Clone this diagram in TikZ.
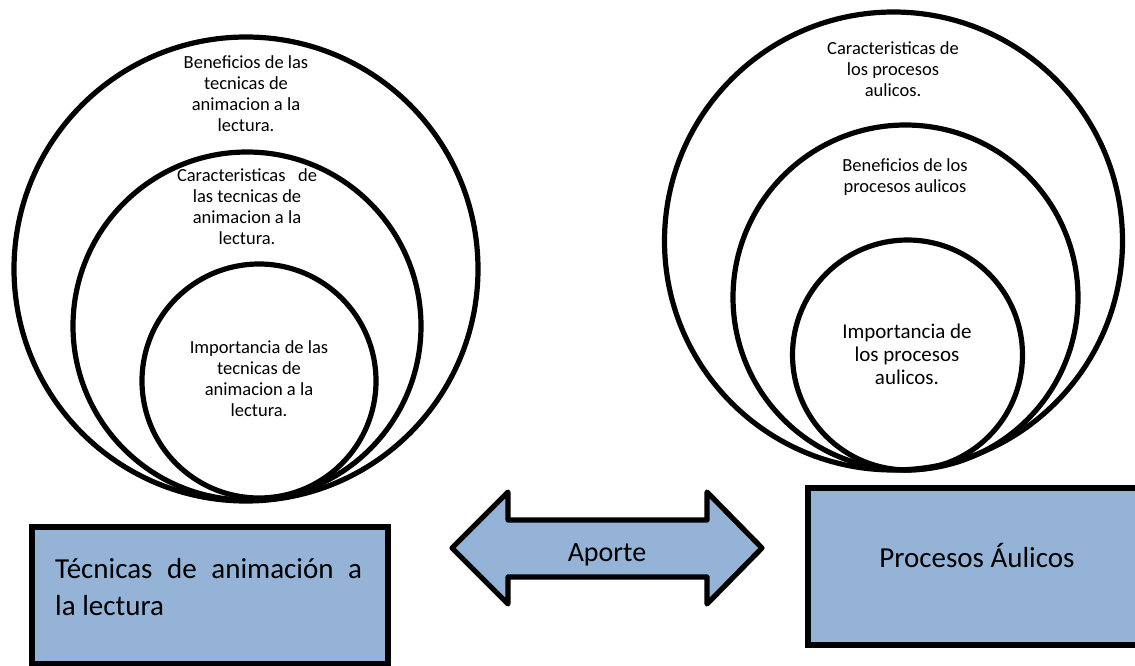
\documentclass[tikz,border=0pt]{standalone}
\usepackage{fontspec}
\setmainfont{Carlito}
\definecolor{boxblue}{HTML}{95B3D7}
\begin{document}
\begin{tikzpicture}[x=1pt,y=-1pt,
  ring/.style={circle,draw=black,line width=5.2pt,inner sep=0pt},
  smalltxt/.style={font=\fontsize{18.5}{21}\selectfont,align=center,inner sep=0pt},
  midtxt/.style={font=\fontsize{21}{23}\selectfont,align=center,inner sep=0pt},
  bigtxt/.style={font=\fontsize{29}{37}\selectfont,inner sep=0pt},
  bluebox/.style={rectangle,draw=black,fill=boxblue,line width=5.2pt,inner sep=0pt},
  arrowshape/.style={draw=black,fill=boxblue,line width=5.2pt,line join=round}
]
\useasboundingbox (0,0) rectangle (1135,666);

% left circles
\node[ring,minimum size=464pt] (LA) at (246,269) {};
\node[ring,minimum size=348pt] (LB) at (247,326) {};
\node[ring,minimum size=234pt] (LC) at (259,381) {};
\node[smalltxt] (tLA) at (246,94) {Beneficios de las\\tecnicas de\\animacion a la\\lectura.};
\node[smalltxt] (tLB) at (247,207) {Caracteristicas~~~de\\las tecnicas de\\animacion a la\\lectura.};
\node[smalltxt] (tLC) at (259,379) {Importancia de las\\tecnicas de\\animacion a la\\lectura.};

% right circles
\node[ring,minimum size=458pt] (RA) at (893.5,241) {};
\node[ring,minimum size=345pt] (RB) at (905.5,297.5) {};
\node[ring,minimum size=230pt] (RC) at (907.5,355) {};
\node[smalltxt] (tRA) at (893,69) {Caracteristicas de\\los procesos\\aulicos.};
\node[smalltxt] (tRB) at (905,177) {Beneficios de los\\procesos aulicos};
\node[midtxt] (tRC) at (907,354) {Importancia de\\los procesos\\aulicos.};

% boxes
\node[bluebox,minimum width=356pt,minimum height=137pt] (TL) at (210,595.5) {};
\node[bigtxt,anchor=base west,align=left] (tTL) at (55,615) {\makebox[307pt][s]{Técnicas de animación a}\\la lectura};
\node[bluebox,minimum width=380pt,minimum height=157pt] (PR) at (998,566.5) {};
\node[bigtxt] (tPR) at (977,555) {Procesos Áulicos};

% double arrow
\coordinate (a1) at (452,548);
\coordinate (a2) at (508,492);
\coordinate (a3) at (508,520);
\coordinate (a4) at (707,520);
\coordinate (a5) at (707,492);
\coordinate (a6) at (762,548);
\coordinate (a7) at (707,604);
\coordinate (a8) at (707,577);
\coordinate (a9) at (508,577);
\coordinate (a10) at (508,604);
\draw[arrowshape] (a1) -- (a2) -- (a3) -- (a4) -- (a5) -- (a6) -- (a7) -- (a8) -- (a9) -- (a10) -- cycle;
\node[font=\fontsize{28}{32}\selectfont,inner sep=0pt] (ap) at (607,555) {Aporte};
\end{tikzpicture}
\end{document}
